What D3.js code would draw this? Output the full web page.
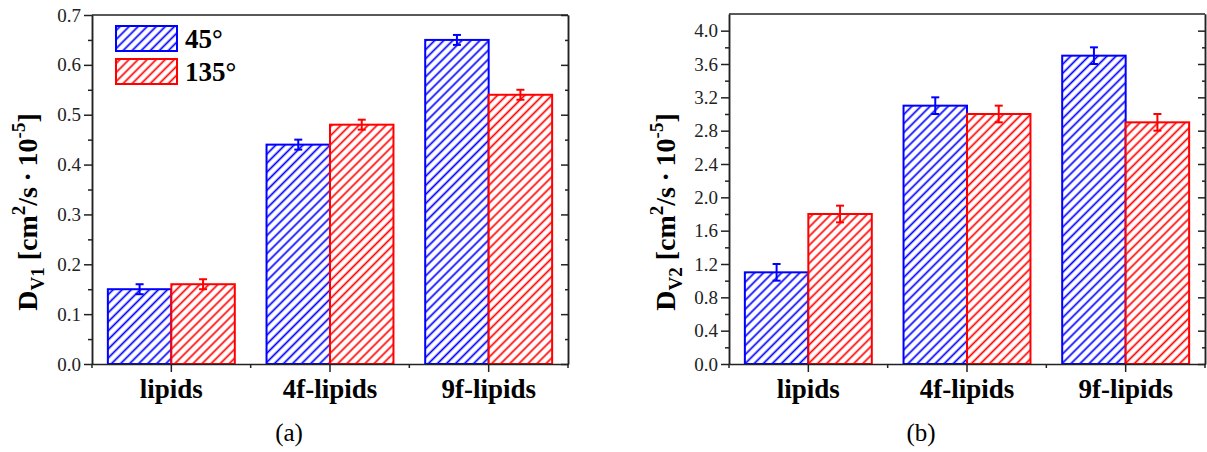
<!DOCTYPE html>
<html>
<head>
<meta charset="utf-8">
<script src="https://cdn.jsdelivr.net/npm/d3@7"></script>
<style>
  body { margin: 0; background: #fff; }
  svg { display: block; }
  svg text { font-family: "Liberation Serif", "Times New Roman", Times, "DejaVu Serif", serif; }
</style>
</head>
<body>
<script>
// data
var categories = ["lipids", "4f-lipids", "9f-lipids"];
var seriesNames = ["45°", "135°"];
var seriesColors = ["#0000ff", "#ff0000"];

var dv1_45 = [0.15, 0.44, 0.65],
    dv1_45err = [0.01, 0.01, 0.01],
    dv1_135 = [0.16, 0.48, 0.54],
    dv1_135err = [0.01, 0.01, 0.01];

var dv2_45 = [1.1, 3.1, 3.7],
    dv2_45err = [0.1, 0.1, 0.1],
    dv2_135 = [1.8, 3.0, 2.9],
    dv2_135err = [0.1, 0.1, 0.1];

var yTicks1 = [0.0, 0.1, 0.2, 0.3, 0.4, 0.5, 0.6, 0.7],
    yMinor1 = [0.05, 0.15, 0.25, 0.35, 0.45, 0.55, 0.65],
    yTicks2 = [0.0, 0.4, 0.8, 1.2, 1.6, 2.0, 2.4, 2.8, 3.2, 3.6, 4.0],
    yMinor2 = [0.2, 0.6, 1.0, 1.4, 1.8, 2.2, 2.6, 3.0, 3.4, 3.8];

var width = 1207, height = 452,
    axisColor = "#222";

var svg = d3.select("body").append("svg")
    .attr("width", width)
    .attr("height", height);

// hatch patterns
var defs = svg.append("defs");
seriesColors.forEach(function(c, i) {
    var p = defs.append("pattern")
        .attr("id", "hatch" + i)
        .attr("patternUnits", "userSpaceOnUse")
        .attr("width", 6.4)
        .attr("height", 6.4)
        .attr("patternTransform", "rotate(45)");
    p.append("rect").attr("width", 6.4).attr("height", 6.4).attr("fill", "#fff");
    p.append("line")
        .attr("x1", 3.2).attr("y1", 0)
        .attr("x2", 3.2).attr("y2", 6.4)
        .attr("stroke", c)
        .attr("stroke-width", 1.7);
});

function drawPanel(opt) {
    var g = svg.append("g");

    var x = d3.scaleBand()
        .domain(categories)
        .range([opt.left, opt.right])
        .padding(0);
    var xs = d3.scaleBand()
        .domain(d3.range(seriesNames.length))
        .range([x.bandwidth() * 0.1, x.bandwidth() * 0.9]);
    var y = d3.scaleLinear()
        .domain([0, opt.yMax])
        .range([opt.bottom, opt.top]);

    var rows = [];
    categories.forEach(function(c, i) {
        opt.values.forEach(function(v, s) {
            rows.push({cat: c, s: s, v: v[i], e: opt.errors[s][i]});
        });
    });

    // bars
    g.append("g").selectAll("rect")
        .data(rows)
        .enter()
        .append("rect")
        .attr("x", function(d) { return x(d.cat) + xs(d.s); })
        .attr("y", function(d) { return y(d.v); })
        .attr("width", xs.bandwidth())
        .attr("height", function(d) { return y(0) - y(d.v); })
        .attr("fill", function(d) { return "url(#hatch" + d.s + ")"; })
        .attr("stroke", function(d) { return seriesColors[d.s]; })
        .attr("stroke-width", 2);

    // error bars
    var eb = g.append("g").selectAll("g")
        .data(rows)
        .enter()
        .append("g")
        .attr("stroke", function(d) { return seriesColors[d.s]; })
        .attr("stroke-width", 2)
        .attr("transform", function(d) {
            return "translate(" + (x(d.cat) + xs(d.s) + xs.bandwidth() / 2) + ",0)"; });
    eb.append("line")
        .attr("y1", function(d) { return y(d.v - d.e); })
        .attr("y2", function(d) { return y(d.v + d.e); });
    eb.append("line")
        .attr("x1", -4).attr("x2", 4)
        .attr("y1", function(d) { return y(d.v + d.e); })
        .attr("y2", function(d) { return y(d.v + d.e); });
    eb.append("line")
        .attr("x1", -4).attr("x2", 4)
        .attr("y1", function(d) { return y(d.v - d.e); })
        .attr("y2", function(d) { return y(d.v - d.e); });

    var axes = g.append("g").attr("class", "axes");

    // left axis, major and minor
    var la = axes.append("g")
        .attr("transform", "translate(" + opt.left + ",0)")
        .call(d3.axisLeft(y).tickValues(opt.ticks).tickSize(8).tickSizeOuter(0)
            .tickPadding(3).tickFormat(d3.format(".1f")));
    la.attr("font-family", null);
    la.selectAll("text").style("font-size", "19px").attr("fill", axisColor);
    axes.append("g")
        .attr("transform", "translate(" + opt.left + ",0)")
        .call(d3.axisLeft(y).tickValues(opt.minor).tickSize(4).tickSizeOuter(0).tickFormat(""));

    // right axis, ticks point inward
    axes.append("g")
        .attr("transform", "translate(" + opt.right + ",0)")
        .call(d3.axisLeft(y).tickValues(opt.ticks).tickSize(7).tickSizeOuter(0).tickFormat(""));
    axes.append("g")
        .attr("transform", "translate(" + opt.right + ",0)")
        .call(d3.axisLeft(y).tickValues(opt.minor).tickSize(3).tickSizeOuter(0).tickFormat(""));

    // bottom axis with category labels
    var ba = axes.append("g")
        .attr("transform", "translate(0," + opt.bottom + ")")
        .call(d3.axisBottom(x).tickSize(8).tickSizeOuter(0));
    ba.attr("font-family", null);
    ba.selectAll("text")
        .attr("y", 34)
        .attr("dy", 0)
        .style("font-size", "27px")
        .style("font-weight", "bold")
        .attr("fill", "#000");

    // small ticks at category borders
    var borders = categories.map(function(c) { return x(c); }).concat([opt.right]);
    axes.append("g").selectAll("line")
        .data(borders)
        .enter()
        .append("line")
        .attr("x1", function(d) { return d; })
        .attr("x2", function(d) { return d; })
        .attr("y1", opt.bottom)
        .attr("y2", opt.bottom + 4);

    // top frame line
    axes.append("line")
        .attr("x1", opt.left).attr("x2", opt.right)
        .attr("y1", y(opt.yMax)).attr("y2", y(opt.yMax));

    axes.selectAll("path, line")
        .attr("stroke", axisColor)
        .attr("stroke-width", 1.5);

    // y axis title
    var t = g.append("text")
        .attr("transform", "translate(" + opt.titleX + "," + opt.titleY + ") rotate(-90)")
        .attr("text-anchor", "middle")
        .style("font-weight", "bold")
        .style("font-size", "28px");
    t.append("tspan").text("D");
    t.append("tspan").attr("dy", 7).style("font-size", "19px").text(opt.sub);
    t.append("tspan").attr("dy", -7).text(" [cm");
    t.append("tspan").attr("dy", -12).style("font-size", "19px").text("2");
    t.append("tspan").attr("dy", 12).text("/s\u2009\u00b7\u200910");
    t.append("tspan").attr("dy", -12).style("font-size", "19px").text("-5");
    t.append("tspan").attr("dy", 12).text("]");

    // panel caption
    g.append("text")
        .attr("x", opt.captionX)
        .attr("y", 441)
        .attr("text-anchor", "middle")
        .style("font-size", "25px")
        .text(opt.caption);

    return g;
}

var panelA = drawPanel({
    left: 92, right: 568, top: 15, bottom: 364, yMax: 0.7,
    values: [dv1_45, dv1_135], errors: [dv1_45err, dv1_135err],
    ticks: yTicks1, minor: yMinor1,
    sub: "V1", titleX: 37, titleY: 212,
    caption: "(a)", captionX: 289
});

drawPanel({
    left: 729, right: 1205, top: 14, bottom: 364, yMax: 4.2,
    values: [dv2_45, dv2_135], errors: [dv2_45err, dv2_135err],
    ticks: yTicks2, minor: yMinor2,
    sub: "V2", titleX: 675, titleY: 212,
    caption: "(b)", captionX: 921
});

// legend in panel (a)
var legend = panelA.append("g").selectAll("g")
    .data(seriesNames)
    .enter()
    .append("g")
    .attr("transform", function(d, i) { return "translate(116," + (26 + i * 33) + ")"; });
legend.append("rect")
    .attr("width", 61)
    .attr("height", 25)
    .attr("fill", function(d, i) { return "url(#hatch" + i + ")"; })
    .attr("stroke", function(d, i) { return seriesColors[i]; })
    .attr("stroke-width", 2);
legend.append("text")
    .attr("x", 69)
    .attr("y", 22)
    .style("font-weight", "bold")
    .style("font-size", "27px")
    .text(function(d) { return d; });
</script>
</body>
</html>
